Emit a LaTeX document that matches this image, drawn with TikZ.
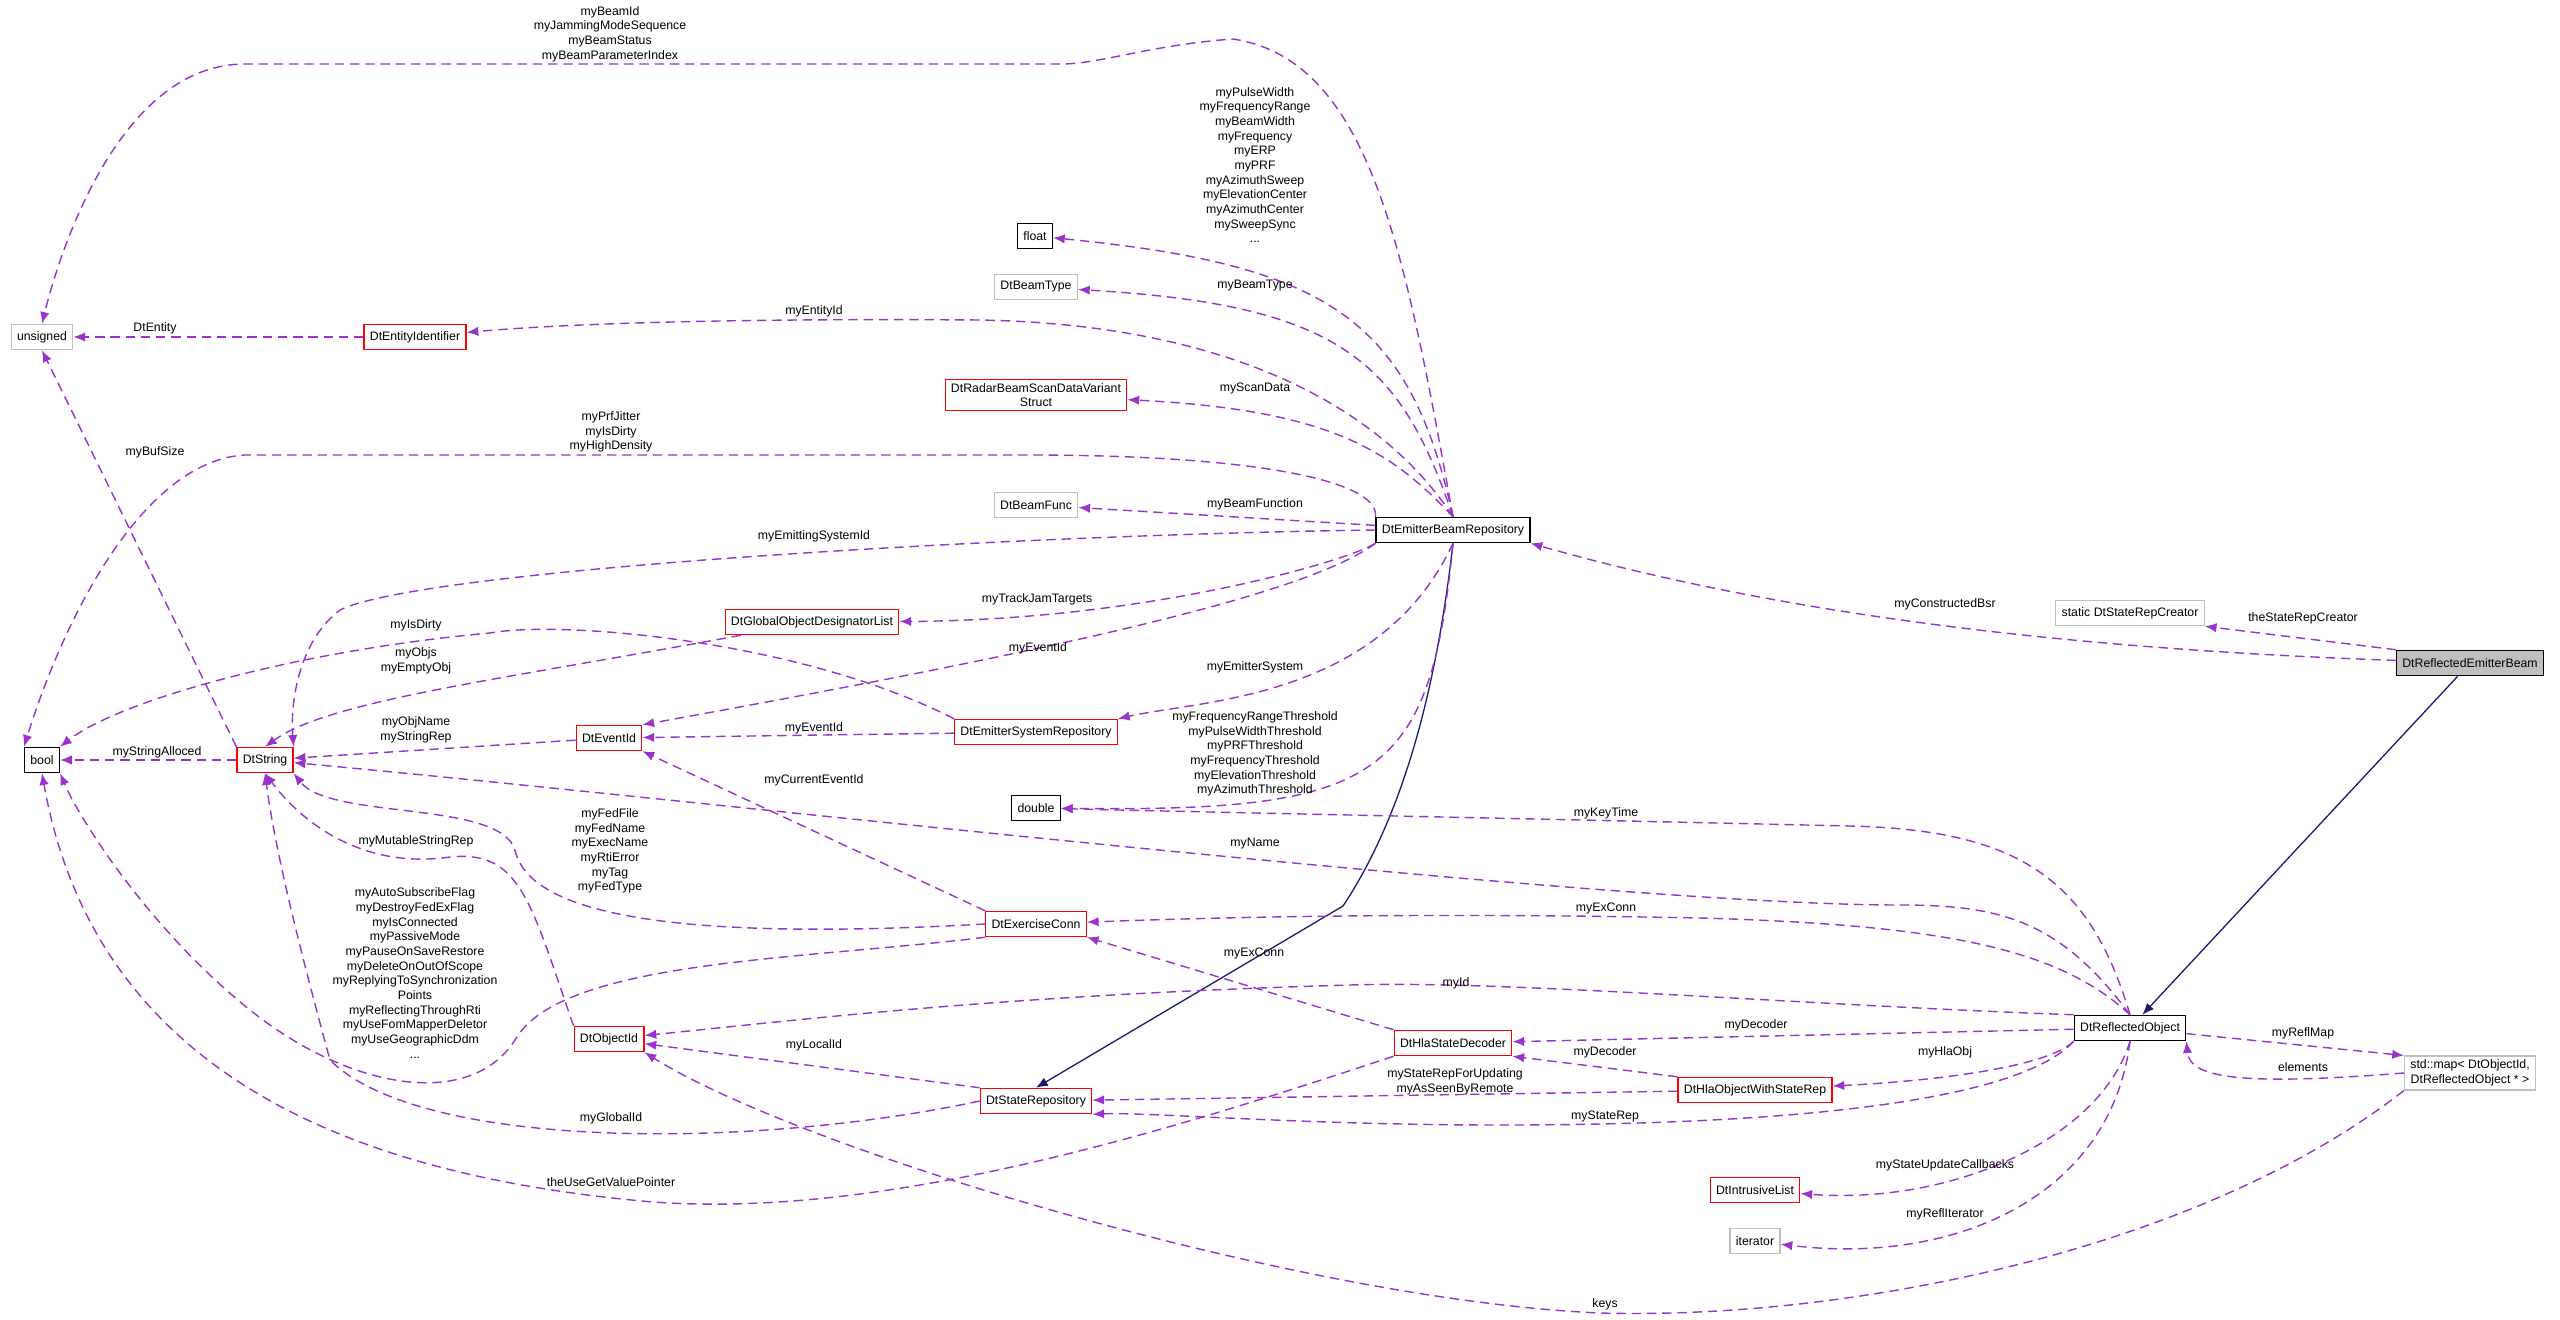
\documentclass[tikz,border=0pt]{standalone}
\usepackage{fontspec}
\setmainfont{Liberation Sans}
\usepackage{tikz}
\usetikzlibrary{positioning}
\usetikzlibrary{arrows.meta}
\definecolor{memcol}{HTML}{9A32CD}
\definecolor{inhcol}{HTML}{191970}
\definecolor{boxgray}{HTML}{BFBFBF}
\tikzset{
  cls/.style={draw=black, line width=1pt, inner xsep=5pt, minimum height=0.76cm,
              font=\fontsize{10.5}{12.5}\selectfont, align=center},
  redcls/.style={cls, draw=red},
  extcls/.style={cls, draw=boxgray},
  mem/.style={draw=memcol, line width=1.2pt, dash pattern=on 8pt off 5pt,
              -{Latex[length=10pt,width=8pt]}},
  inh/.style={draw=inhcol, line width=1.1pt, -{Latex[length=10pt,width=8pt]}},
  lbl/.style={font=\fontsize{10.5}{12.5}\selectfont, align=center, inner sep=0pt}
}
\begin{document}
\begin{tikzpicture}[x=0.03cm, y=-0.03cm]
\useasboundingbox (0,0) rectangle (2560,1319);

% ---------------- Classes ----------------
\node[cls, fill=boxgray] (reflbeam) at (2470,663) {DtReflectedEmitterBeam};
\node[extcls] (creator) at (2130,613) {static DtStateRepCreator};
\node[cls] (beamrepo) at (1453,530) {DtEmitterBeamRepository};
\node[cls] (float) at (1035,236) {float};
\node[extcls] (beamtype) at (1036,287) {DtBeamType};
\node[redcls] (entity) at (415,337) {DtEntityIdentifier};
\node[extcls] (unsigned) at (42,337) {unsigned};
\node[redcls] (radar) at (1036,395) {DtRadarBeamScanDataVariant\\Struct};
\node[extcls] (beamfunc) at (1036,505) {DtBeamFunc};
\node[redcls] (globalodl) at (812,622) {DtGlobalObjectDesignatorList};
\node[redcls] (eventid) at (609,738) {DtEventId};
\node[redcls] (emsys) at (1036,732) {DtEmitterSystemRepository};
\node[redcls] (dtstring) at (265,760) {DtString};
\node[cls] (bool) at (42,760) {bool};
\node[cls] (double) at (1036,808) {double};
\node[redcls] (exconn) at (1036,924) {DtExerciseConn};
\node[redcls] (objid) at (609,1039) {DtObjectId};
\node[redcls] (staterepo) at (1036,1101) {DtStateRepository};
\node[redcls] (decoder) at (1453,1043) {DtHlaStateDecoder};
\node[cls] (reflobj) at (2130,1028) {DtReflectedObject};
\node[redcls] (hlaobj) at (1755,1090) {DtHlaObjectWithStateRep};
\node[extcls] (map) at (2470,1073) {std::map< DtObjectId,\\DtReflectedObject * >};
\node[redcls] (intrusive) at (1755,1190) {DtIntrusiveList};
\node[extcls] (iterator) at (1755,1241) {iterator};

% ---------------- Inheritance ----------------
\draw[inh] (reflbeam) -- (reflobj);
\draw[inh] (beamrepo.south) .. controls (1435,700) and (1400,820) .. (1343,906) -- (staterepo.north);

% ---------------- Members of DtEmitterBeamRepository ----------------
\draw[mem] (beamrepo.north) .. controls (1405,250) and (1370,60) .. (1233,39)
  .. controls (1150,45) and (1100,64) .. (1061,64) -- (245,64)
  .. controls (120,64) and (60,250) .. (unsigned.north);
\draw[mem] (beamrepo.north) .. controls (1410,320) and (1330,265) .. (float);
\draw[mem] (beamrepo.north) .. controls (1400,360) and (1340,305) .. (beamtype);
\draw[mem] (beamrepo.north) .. controls (1390,420) and (1250,325) .. (980,320)
  .. controls (700,318) and (550,325) .. (entity);
\draw[mem] (beamrepo.north) .. controls (1390,450) and (1330,410) .. (radar);
\draw[mem] (beamrepo.north west) .. controls (1380,480) and (1250,455) .. (1030,455) -- (245,455)
  .. controls (150,460) and (70,600) .. (bool.north west);
\draw[mem] (beamrepo) -- (beamfunc);
\draw[mem] (beamrepo.west) .. controls (1000,535) and (420,570) .. (340,610)
  .. controls (300,640) and (290,700) .. (dtstring.north east);
\draw[mem] (beamrepo.south west) .. controls (1350,560) and (1150,620) .. (globalodl);
\draw[mem] (beamrepo.south west) .. controls (1300,600) and (1000,660) .. (eventid.north east);
\draw[mem] (beamrepo.south) .. controls (1380,700) and (1200,700) .. (emsys.north east);
\draw[mem] (beamrepo.south) .. controls (1430,780) and (1380,812) .. (double);
\draw[mem] (reflbeam) .. controls (2100,650) and (1800,620) .. (beamrepo.south east);
\draw[mem] (reflbeam.north west) -- (creator.south east);

% ---------------- Small helpers ----------------
\draw[mem] (entity) -- (unsigned);
\draw[mem] (emsys.north west) .. controls (800,640) and (560,620) .. (490,633)
  .. controls (300,650) and (120,700) .. (bool.north east);
\draw[mem] (globalodl) .. controls (500,680) and (330,700) .. (dtstring.north);
\draw[mem] (emsys) -- (eventid);
\draw[mem] (eventid) -- (dtstring);
\draw[mem] (dtstring) -- (bool);
\draw[mem] (dtstring.north west) -- (unsigned.south);
\draw[mem] (exconn.north west) -- (eventid.south east);
\draw[mem] (exconn.west) .. controls (700,940) and (530,920) .. (515,850)
  .. controls (500,800) and (330,820) .. (dtstring.south east);
\draw[mem] (objid.north west) .. controls (530,900) and (520,850) .. (450,857)
  .. controls (360,870) and (300,820) .. (dtstring.south);
\draw[mem] (exconn.south west) .. controls (800,960) and (560,960) .. (515,1040)
  .. controls (470,1110) and (350,1090) .. (250,1010)
  .. controls (150,930) and (80,820) .. (bool.south east);
\draw[mem] (staterepo.north west) -- (objid);
\draw[mem] (staterepo.west) .. controls (750,1150) and (420,1150) .. (330,1060)
  .. controls (300,950) and (275,850) .. (dtstring.south);
\draw[mem] (decoder.south west) .. controls (1200,1120) and (900,1220) .. (653,1202)
  .. controls (400,1180) and (100,1100) .. (bool.south);
\draw[mem] (decoder.north west) -- (exconn.south east);

% ---------------- Members of DtReflectedObject ----------------
\draw[mem] (reflobj.north) .. controls (2090,880) and (2020,830) .. (1850,826)
  .. controls (1500,818) and (1200,812) .. (double);
\draw[mem] (reflobj.north) .. controls (2060,920) and (2000,905) .. (1900,905)
  .. controls (1600,905) and (700,800) .. (dtstring);
\draw[mem] (reflobj.north) .. controls (2060,950) and (1950,925) .. (1700,918)
  .. controls (1400,912) and (1200,918) .. (exconn);
\draw[mem] (reflobj.north west) .. controls (1800,1005) and (1500,980) .. (1350,985)
  .. controls (1000,995) and (800,1020) .. (objid);
\draw[mem] (reflobj) -- (decoder);
\draw[mem] (hlaobj.north west) -- (decoder.south east);
\draw[mem] (reflobj.south west) .. controls (2050,1065) and (1950,1080) .. (hlaobj);
\draw[mem] (hlaobj) -- (staterepo);
\draw[mem] (reflobj.south west) .. controls (2020,1100) and (1800,1125) .. (1500,1125)
  .. controls (1300,1125) and (1150,1112) .. (staterepo.south east);
\draw[mem] (reflobj) -- (map.north west);
\draw[mem] (map.west) .. controls (2250,1085) and (2190,1080) .. (reflobj.south east);
\draw[mem] (reflobj.south) .. controls (2100,1140) and (1950,1205) .. (intrusive);
\draw[mem] (reflobj.south) .. controls (2110,1200) and (1950,1265) .. (iterator);
\draw[mem] (map.south west) .. controls (2200,1250) and (1850,1320) .. (1600,1313)
  .. controls (1300,1300) and (800,1150) .. (objid.south east);

% ---------------- Labels ----------------
\node[lbl] (l-beamid) at (610,34) {myBeamId\\myJammingModeSequence\\myBeamStatus\\myBeamParameterIndex};
\node[lbl] (l-float) at (1255,165) {myPulseWidth\\myFrequencyRange\\myBeamWidth\\myFrequency\\myERP\\myPRF\\myAzimuthSweep\\myElevationCenter\\myAzimuthCenter\\mySweepSync\\...};
\node[lbl] (l-beamtype) at (1255,286) {myBeamType};
\node[lbl] (l-entityid) at (814,311) {myEntityId};
\node[lbl] (l-dtentity) at (155,328) {DtEntity};
\node[lbl] (l-scandata) at (1255,388) {myScanData};
\node[lbl] (l-prf) at (611,432) {myPrfJitter\\myIsDirty\\myHighDensity};
\node[lbl] (l-bufsize) at (155,452) {myBufSize};
\node[lbl] (l-beamfunc) at (1255,504) {myBeamFunction};
\node[lbl] (l-emitsys) at (814,536) {myEmittingSystemId};
\node[lbl] (l-trackjam) at (1037,599) {myTrackJamTargets};
\node[lbl] (l-isdirty) at (416,625) {myIsDirty};
\node[lbl] (l-objs) at (416,661) {myObjs\\myEmptyObj};
\node[lbl] (l-eventid1) at (1038,648) {myEventId};
\node[lbl] (l-emitter) at (1255,667) {myEmitterSystem};
\node[lbl] (l-objname) at (416,730) {myObjName\\myStringRep};
\node[lbl] (l-eventid2) at (814,728) {myEventId};
\node[lbl] (l-alloced) at (157,752) {myStringAlloced};
\node[lbl] (l-thresh) at (1255,754) {myFrequencyRangeThreshold\\myPulseWidthThreshold\\myPRFThreshold\\myFrequencyThreshold\\myElevationThreshold\\myAzimuthThreshold};
\node[lbl] (l-curevent) at (814,780) {myCurrentEventId};
\node[lbl] (l-keytime) at (1606,813) {myKeyTime};
\node[lbl] (l-fed) at (610,851) {myFedFile\\myFedName\\myExecName\\myRtiError\\myTag\\myFedType};
\node[lbl] (l-mutable) at (416,841) {myMutableStringRep};
\node[lbl] (l-name) at (1255,844) {myName};
\node[lbl] (l-exconn1) at (1606,908) {myExConn};
\node[lbl] (l-exconn2) at (1254,953) {myExConn};
\node[lbl] (l-flags) at (415,973) {myAutoSubscribeFlag\\myDestroyFedExFlag\\myIsConnected\\myPassiveMode\\myPauseOnSaveRestore\\myDeleteOnOutOfScope\\myReplyingToSynchronization\\Points\\myReflectingThroughRti\\myUseFomMapperDeletor\\myUseGeographicDdm\\...};
\node[lbl] (l-id) at (1456,983) {myId};
\node[lbl] (l-decoder1) at (1756,1025) {myDecoder};
\node[lbl] (l-localid) at (814,1045) {myLocalId};
\node[lbl] (l-decoder2) at (1605,1052) {myDecoder};
\node[lbl] (l-hlaobj) at (1945,1052) {myHlaObj};
\node[lbl] (l-forupd) at (1455,1082) {myStateRepForUpdating\\myAsSeenByRemote};
\node[lbl] (l-staterep) at (1605,1116) {myStateRep};
\node[lbl] (l-globalid) at (611,1118) {myGlobalId};
\node[lbl] (l-reflmap) at (2303,1033) {myReflMap};
\node[lbl] (l-elements) at (2303,1067) {elements};
\node[lbl] (l-callbacks) at (1945,1165) {myStateUpdateCallbacks};
\node[lbl] (l-getvalue) at (611,1182) {theUseGetValuePointer};
\node[lbl] (l-refliter) at (1945,1214) {myReflIterator};
\node[lbl] (l-keys) at (1605,1304) {keys};
\node[lbl] (l-bsr) at (1945,604) {myConstructedBsr};
\node[lbl] (l-creator) at (2303,618) {theStateRepCreator};

\end{tikzpicture}
\end{document}
